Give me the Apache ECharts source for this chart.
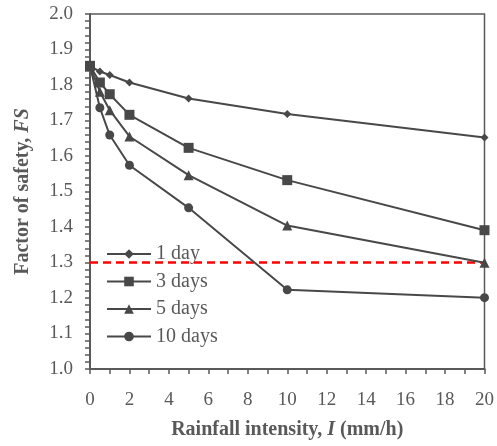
<!DOCTYPE html>
<html><head><meta charset="utf-8">
<script src="https://cdn.jsdelivr.net/npm/echarts@6/dist/echarts.min.js"></script>
<style>html,body{margin:0;padding:0;background:#fff}#c{width:497px;height:446px}</style>
</head><body><div id="c"></div>
<script>
const intensity = [0, 0.5, 1, 2, 5, 10, 20];
const fs1day  = [1.854, 1.838, 1.828, 1.807, 1.762, 1.718, 1.652];
const fs3days = [1.854, 1.807, 1.774, 1.716, 1.623, 1.532, 1.391];
const fs5days = [1.854, 1.781, 1.729, 1.655, 1.546, 1.404, 1.299];
const fs10days = [1.854, 1.736, 1.659, 1.574, 1.454, 1.223, 1.201];
const seriesNames = ['1 day', '3 days', '5 days', '10 days'];
const thresholdFS = 1.3;

const axisGray = '#595959';
const lineGray = '#484848';
const font = '"Liberation Serif", "Times New Roman", serif';
const pair = (ys) => intensity.map((x, i) => [x, ys[i]]);
const symbols = ['diamond', 'rect', 'triangle', 'circle'];
const sizes = [8, 10, 10, 9];
const all = [fs1day, fs3days, fs5days, fs10days];

const series = all.map((d, i) => ({
  name: seriesNames[i], type: 'line', data: pair(d),
  symbol: symbols[i], symbolSize: sizes[i], showSymbol: true,
  lineStyle: {color: lineGray, width: 2},
  itemStyle: {color: lineGray},
  z: 3
}));
series.push({
  name: 'threshold', type: 'line', data: [[0, thresholdFS], [20, thresholdFS]],
  symbol: 'none', lineStyle: {color: '#ff0000', width: 2.5, type: [8, 5]}, z: 2, silent: true
});

const titleStyle = {fontFamily: font, fontSize: 20, fontWeight: 'bold', color: axisGray,
  rich: {i: {fontFamily: font, fontSize: 20, fontWeight: 'bold', fontStyle: 'italic', color: axisGray}}};

const chart = echarts.init(document.getElementById('c'), null, {renderer: 'canvas'});
chart.setOption({
  animation: false,
  grid: {left: 90, right: 11, top: 14, bottom: 77, show: true, borderColor: axisGray, borderWidth: 1.5, backgroundColor: 'transparent'},
  legend: {
    data: seriesNames, orient: 'vertical', left: 101, top: 239,
    itemWidth: 44, itemHeight: 12, itemGap: 7.5,
    textStyle: {fontFamily: font, fontSize: 20, color: axisGray}
  },
  xAxis: {
    type: 'value', min: 0, max: 20, interval: 2,
    name: 'Rainfall intensity, {i|I} (mm/h)', nameLocation: 'middle', nameGap: 51,
    nameTextStyle: titleStyle,
    axisLine: {show: true, lineStyle: {color: axisGray, width: 2}},
    axisTick: {show: true, length: 5, lineStyle: {color: axisGray, width: 1.5}},
    minorTick: {show: true, splitNumber: 2, length: 5, lineStyle: {color: axisGray, width: 1.5}},
    splitLine: {show: false},
    axisLabel: {fontFamily: font, fontSize: 19, color: axisGray, margin: 22}
  },
  yAxis: {
    type: 'value', min: 1.0, max: 2.0, interval: 0.1,
    name: 'Factor of safety, {i|FS}', nameLocation: 'middle', nameGap: 57,
    nameTextStyle: titleStyle,
    axisLine: {show: true, lineStyle: {color: axisGray, width: 2}},
    axisTick: {show: true, length: 5, lineStyle: {color: axisGray, width: 1.5}},
    minorTick: {show: true, splitNumber: 5, length: 5, lineStyle: {color: axisGray, width: 1.5}},
    splitLine: {show: false},
    axisLabel: {fontFamily: font, fontSize: 19, color: axisGray, margin: 17, formatter: v => v.toFixed(1)}
  },
  series: series
});
</script></body></html>
